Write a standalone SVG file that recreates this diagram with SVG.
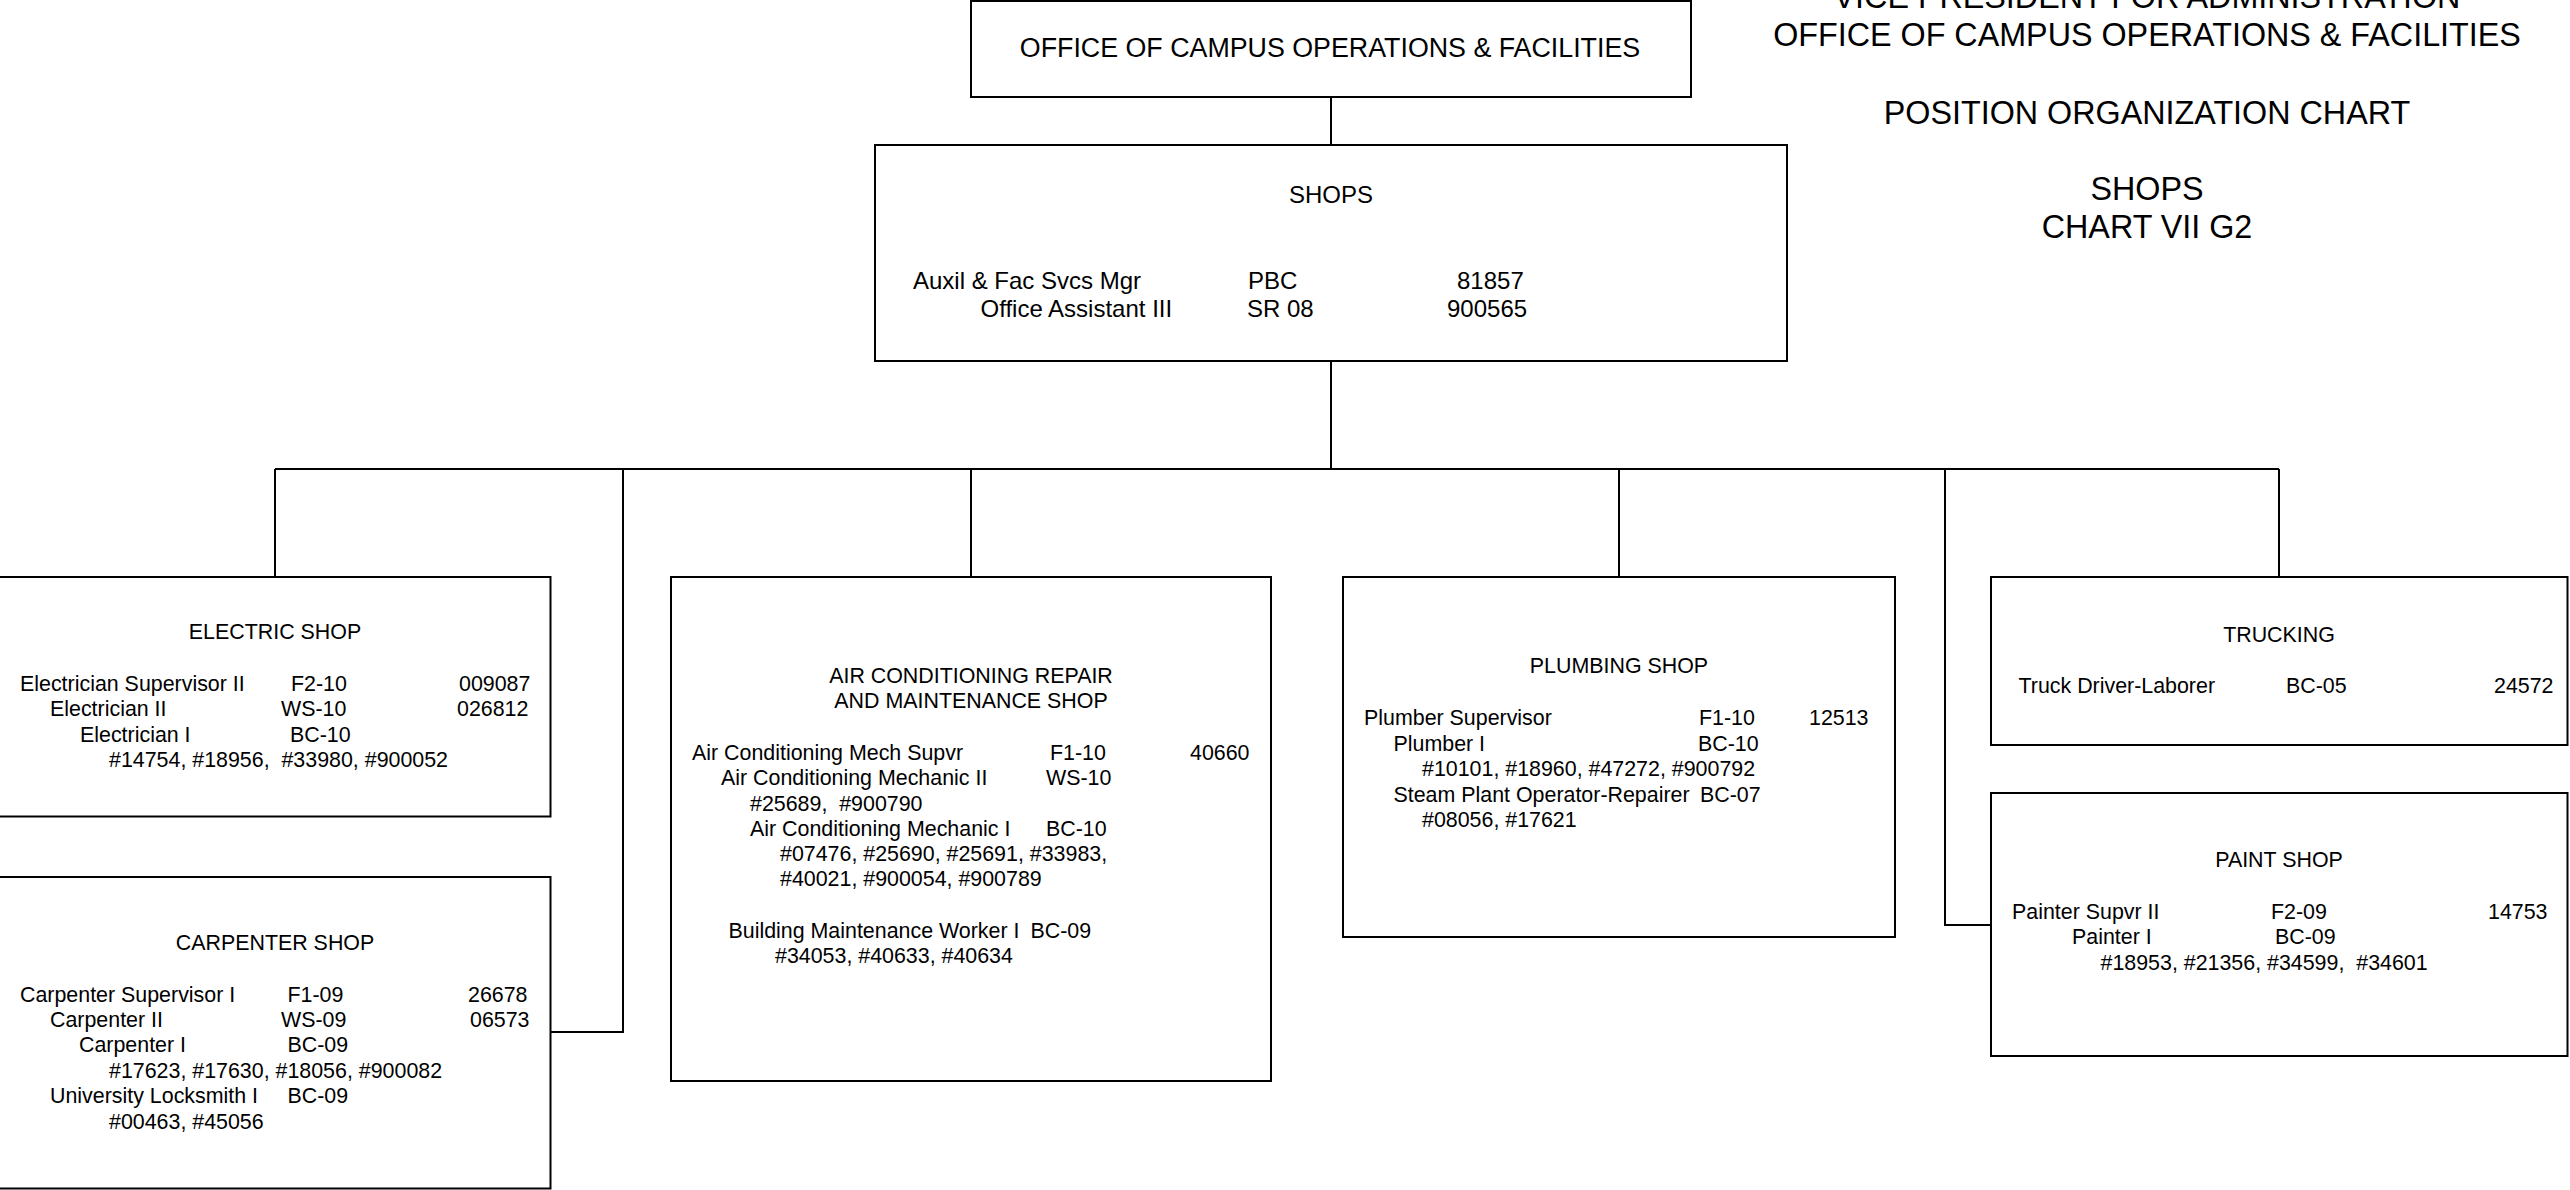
<svg xmlns="http://www.w3.org/2000/svg" width="2570" height="1190" viewBox="0 0 2570 1190">
<style>
text{font-family:"Liberation Sans",Arial,sans-serif;fill:#000;white-space:pre}
.b{fill:#fff;stroke:#000;stroke-width:2}
.c{fill:none;stroke:#000;stroke-width:2}
.t{font-size:21.4px}
.m{text-anchor:middle}
.s{font-size:24px}
.h{font-size:32.3px;text-anchor:middle}
</style>
<rect width="2570" height="1190" fill="#fff"/>
<g id="connectors">
<path class="c" d="M1331 97V145M1331 361V469M275 469H2279M275 469V577M623 469V1032H550.5M971 469V577M1619 469V577M1945 469V925H1991M2279 469V577"/>
</g>
<g id="title">
<text class="h" x="2147" y="8">VICE PRESIDENT FOR ADMINISTRATION</text>
<text class="h" x="2147" y="46">OFFICE OF CAMPUS OPERATIONS &amp; FACILITIES</text>
<text class="h" x="2147" y="123.5">POSITION ORGANIZATION CHART</text>
<text class="h" x="2147" y="200">SHOPS</text>
<text class="h" x="2147" y="238">CHART VII G2</text>
</g>
<g id="office">
<rect class="b" x="971" y="1" width="720" height="96"/>
<text class="m" x="1330" y="57" font-size="26.8">OFFICE OF CAMPUS OPERATIONS &amp; FACILITIES</text>
</g>
<g id="shops">
<rect class="b" x="875" y="145" width="912" height="216"/>
<text class="s m" x="1331" y="202.5">SHOPS</text>
<text class="s" x="913" y="288.5">Auxil &amp; Fac Svcs Mgr</text>
<text class="s" x="1248" y="288.5">PBC</text>
<text class="s" x="1457" y="288.5">81857</text>
<text class="s" x="980.5" y="316.5">Office Assistant III</text>
<text class="s" x="1247" y="316.5">SR 08</text>
<text class="s" x="1447" y="316.5">900565</text>
</g>
<g id="electric">
<rect class="b" x="-5" y="577" width="555.5" height="239.5"/>
<text class="t m" x="275" y="639">ELECTRIC SHOP</text>
<text class="t" x="20" y="691">Electrician Supervisor II</text>
<text class="t" x="291" y="691">F2-10</text>
<text class="t" x="459" y="691">009087</text>
<text class="t" x="50" y="716">Electrician II</text>
<text class="t" x="281" y="716">WS-10</text>
<text class="t" x="457" y="716">026812</text>
<text class="t" x="80" y="742">Electrician I</text>
<text class="t" x="290" y="742">BC-10</text>
<text class="t" x="109" y="767">#14754, #18956,  #33980, #900052</text>
</g>
<g id="carpenter">
<rect class="b" x="-5" y="877" width="555.5" height="311.5"/>
<text class="t m" x="275" y="950">CARPENTER SHOP</text>
<text class="t" x="20" y="1002">Carpenter Supervisor I</text>
<text class="t" x="287.5" y="1002">F1-09</text>
<text class="t" x="468" y="1002">26678</text>
<text class="t" x="50" y="1027">Carpenter II</text>
<text class="t" x="281" y="1027">WS-09</text>
<text class="t" x="470" y="1027">06573</text>
<text class="t" x="79" y="1052">Carpenter I</text>
<text class="t" x="287.5" y="1052">BC-09</text>
<text class="t" x="109" y="1078">#17623, #17630, #18056, #900082</text>
<text class="t" x="50" y="1103">University Locksmith I</text>
<text class="t" x="287.5" y="1103">BC-09</text>
<text class="t" x="109" y="1129">#00463, #45056</text>
</g>
<g id="aircond">
<rect class="b" x="671" y="577" width="600" height="504"/>
<text class="t m" x="971" y="683">AIR CONDITIONING REPAIR</text>
<text class="t m" x="971" y="708">AND MAINTENANCE SHOP</text>
<text class="t" x="692" y="760">Air Conditioning Mech Supvr</text>
<text class="t" x="1050" y="760">F1-10</text>
<text class="t" x="1190" y="760">40660</text>
<text class="t" x="721" y="785">Air Conditioning Mechanic II</text>
<text class="t" x="1046" y="785">WS-10</text>
<text class="t" x="750" y="810.5">#25689,  #900790</text>
<text class="t" x="750" y="835.5">Air Conditioning Mechanic I</text>
<text class="t" x="1046" y="835.5">BC-10</text>
<text class="t" x="780" y="861">#07476, #25690, #25691, #33983,</text>
<text class="t" x="780" y="886">#40021, #900054, #900789</text>
<text class="t" x="728.5" y="938">Building Maintenance Worker I</text>
<text class="t" x="1030.5" y="938">BC-09</text>
<text class="t" x="775" y="963">#34053, #40633, #40634</text>
</g>
<g id="plumbing">
<rect class="b" x="1343" y="577" width="552" height="360"/>
<text class="t m" x="1619" y="673">PLUMBING SHOP</text>
<text class="t" x="1364" y="725">Plumber Supervisor</text>
<text class="t" x="1699" y="725">F1-10</text>
<text class="t" x="1809" y="725">12513</text>
<text class="t" x="1393.5" y="751">Plumber I</text>
<text class="t" x="1698" y="751">BC-10</text>
<text class="t" x="1422" y="776">#10101, #18960, #47272, #900792</text>
<text class="t" x="1393.5" y="802">Steam Plant Operator-Repairer</text>
<text class="t" x="1700" y="802">BC-07</text>
<text class="t" x="1422" y="827">#08056, #17621</text>
</g>
<g id="trucking">
<rect class="b" x="1991" y="577" width="576.5" height="168"/>
<text class="t m" x="2279" y="642">TRUCKING</text>
<text class="t" x="2018.5" y="693">Truck Driver-Laborer</text>
<text class="t" x="2286" y="693">BC-05</text>
<text class="t" x="2494" y="693">24572</text>
</g>
<g id="paint">
<rect class="b" x="1991" y="793" width="576.5" height="263"/>
<text class="t m" x="2279" y="866.5">PAINT SHOP</text>
<text class="t" x="2012" y="919">Painter Supvr II</text>
<text class="t" x="2271" y="919">F2-09</text>
<text class="t" x="2488" y="919">14753</text>
<text class="t" x="2072" y="943.5">Painter I</text>
<text class="t" x="2275" y="943.5">BC-09</text>
<text class="t" x="2100.5" y="969.5">#18953, #21356, #34599,  #34601</text>
</g>
</svg>
